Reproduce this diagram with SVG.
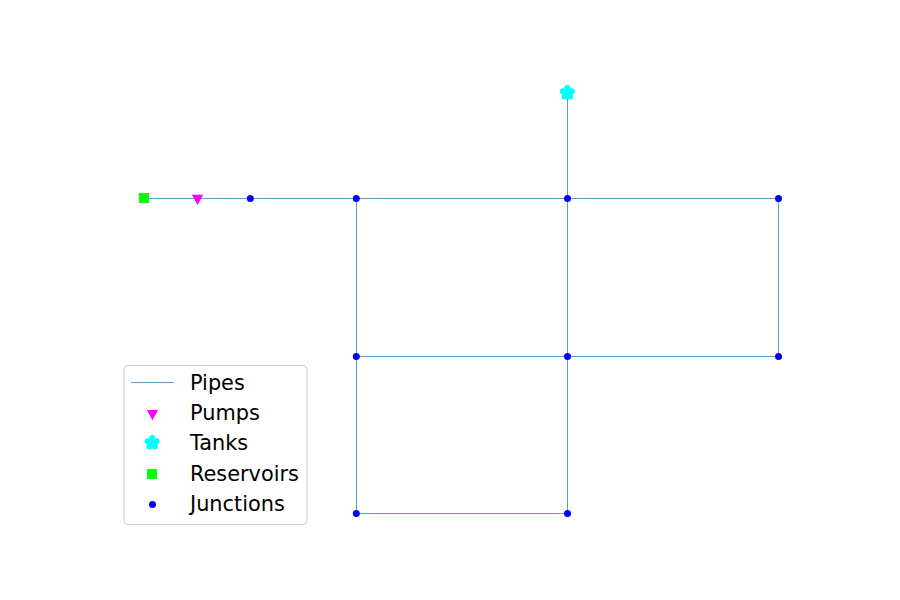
<svg xmlns="http://www.w3.org/2000/svg" width="900" height="600" viewBox="0 0 900 600">
<style>
.pipe{fill:none;stroke:#1f77b4;stroke-width:.9;stroke-opacity:.8}
.j{fill:#0000ff}
.p{fill:#ff00ff}
.t{fill:#00ffff}
.r{fill:#00ff00}
text{font-family:"DejaVu Sans",sans-serif;font-size:20.83px;fill:#000}
</style>
<defs>
<circle id="jm" class="j" r="3.5"/>
<polygon id="pm" class="p" points="-5.6,-4.8 5.6,-4.8 0,5.4"/>
<g id="tm" class="t">
<circle cx="0" cy="0" r="4.8"/>
<circle cx="0" cy="-4.7" r="3"/>
<circle cx="4.47" cy="-1.45" r="3"/>
<circle cx="2.76" cy="3.8" r="3"/>
<circle cx="-2.76" cy="3.8" r="3"/>
<circle cx="-4.47" cy="-1.45" r="3"/>
</g>
<rect id="rm" class="r" x="-5" y="-5" width="10" height="10"/>
</defs>
<rect width="900" height="600" fill="#fff"/>
<g id="connectors">
<path class="pipe" d="M144 198.500H778.500V356.500H356.500"/>
<path class="pipe" d="M356.500 198.500V513.500H567.500"/>
<path class="pipe" d="M567.500 93V513.500"/>
</g>
<g id="node-reservoir"><use href="#rm" x="144" y="198"/></g>
<g id="node-pump"><use href="#pm" x="197.500" y="199.500"/></g>
<g id="node-tank"><use href="#tm" x="567.300" y="92.800"/></g>
<g id="node-j1"><use href="#jm" x="250.300" y="198.500"/></g>
<g id="node-j2"><use href="#jm" x="356.300" y="198.500"/></g>
<g id="node-j3"><use href="#jm" x="567.500" y="198.500"/></g>
<g id="node-j4"><use href="#jm" x="778.500" y="198.500"/></g>
<g id="node-j5"><use href="#jm" x="356.300" y="356.500"/></g>
<g id="node-j6"><use href="#jm" x="567.500" y="356.500"/></g>
<g id="node-j7"><use href="#jm" x="778.500" y="356.500"/></g>
<g id="node-j8"><use href="#jm" x="356.300" y="513.500"/></g>
<g id="node-j9"><use href="#jm" x="567.500" y="513.500"/></g>
<g id="legend">
<rect x="124" y="365.500" width="183" height="159" rx="4" fill="#fff" stroke="#cccccc" stroke-width="1"/>
<line class="pipe" x1="131" y1="382.500" x2="174" y2="382.500"/>
<use href="#pm" x="152.500" y="414.800"/>
<use href="#tm" x="152.200" y="442.800"/>
<use href="#rm" x="152" y="474"/>
<use href="#jm" x="152.500" y="504.500"/>
<text x="190" y="390">Pipes</text>
<text x="190" y="420">Pumps</text>
<text x="190" y="450">Tanks</text>
<text x="190" y="481">Reservoirs</text>
<text x="190" y="511">Junctions</text>
</g>
</svg>
